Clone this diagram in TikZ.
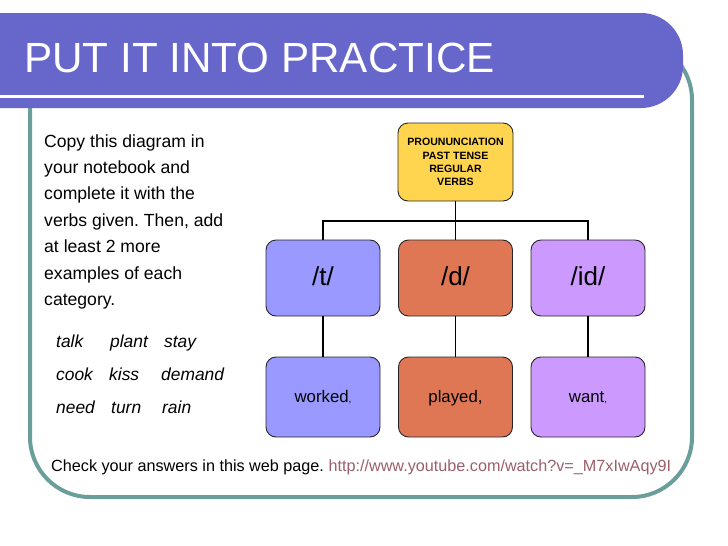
\documentclass[tikz,border=0pt]{standalone}
\usepackage{fontspec}
\setmainfont{Liberation Sans}
\frenchspacing
\definecolor{barblue}{HTML}{6767CB}
\definecolor{frameteal}{HTML}{6A9E9B}
\definecolor{tblue}{HTML}{9999FF}
\definecolor{dorange}{HTML}{DF7755}
\definecolor{idpurple}{HTML}{CC99FF}
\definecolor{topyellow}{HTML}{FFD54F}
\definecolor{urlcol}{HTML}{9B5F6B}
\tikzset{
  box/.style={draw=black!85, line width=0.9pt, rounded corners=10pt, minimum width=114pt, inner sep=0pt},
  midbox/.style={box, minimum height=76pt, text height=19pt, text depth=5pt, font=\fontsize{26}{30}\selectfont},
  lowbox/.style={box, minimum height=80pt, text height=11pt, text depth=0pt, font=\fontsize{16.8}{20}\selectfont},
  conn/.style={draw=black, line width=1.8pt},
  para/.style={anchor=base west, inner sep=0pt, font=\fontsize{17.6}{20}\selectfont},
  verb/.style={anchor=base west, inner sep=0pt, font=\fontsize{17.4}{20}\selectfont\itshape},
}
\newcommand{\smallcomma}{{\fontsize{10}{12}\selectfont,}}
\begin{document}
\begin{tikzpicture}[x=1pt,y=-1pt]
\useasboundingbox (0,0) rectangle (728,546);
% frame
\draw[frameteal, line width=4pt, rounded corners=60pt] (30,40) rectangle (692,497);
% title bar
\fill[barblue, rounded corners=42pt] (-60,13) rectangle (683,108);
\draw[white, line width=3pt] (-5,96.5) -- (644,96.5);
\node[anchor=base west, inner sep=0pt, text=white, font=\fontsize{42.2}{46}\selectfont] (title) at (24,72.5) {PUT IT INTO PRACTICE};
% instructions
\foreach \t [count=\i from 0] in {Copy this diagram in, your notebook and, complete it with the, {verbs given. Then, add}, at least 2 more, examples of each, category.}
  \node[para] (l\i) at (44,147+26.4*\i) {\t};
% verbs
\node[verb] (v1) at (56,347) {talk};
\node[verb] (v2) at (110,347) {plant};
\node[verb] (v3) at (164,347) {stay};
\node[verb] (v4) at (56,380) {cook};
\node[verb] (v5) at (109,380) {kiss};
\node[verb] (v6) at (161,380) {demand};
\node[verb] (v7) at (56,413) {need};
\node[verb] (v8) at (111,413) {turn};
\node[verb] (v9) at (162,413) {rain};
% bottom line
\node[anchor=base west, inner sep=0pt, font=\fontsize{16.2}{20}\selectfont] (check) at (51,471) {Check your answers in this web page. \textcolor{urlcol}{http://www.youtube.com/watch?v=\_M7xIwAqy9I}};
% diagram
\node[box, fill=topyellow, minimum width=115pt, minimum height=78pt, align=center,
      font=\fontsize{10.6}{13.2}\selectfont\bfseries] (top) at (455.5,162) {PROUNUNCIATION\\PAST TENSE\\REGULAR\\VERBS};
\coordinate (j) at (455.5,221);
\node[midbox, fill=tblue] (t) at (323,278) {/t/};
\node[midbox, fill=dorange] (d) at (455.5,278) {/d/};
\node[midbox, fill=idpurple] (id) at (588,278) {/id/};
\node[lowbox, fill=tblue] (tw) at (323,397) {worked\smallcomma};
\node[lowbox, fill=dorange] (dw) at (455.5,397) {played,};
\node[lowbox, fill=idpurple] (idw) at (588,397) {want\smallcomma};
\draw[conn] (top.south) -- (j);
\draw[conn] (t.north) |- (j);
\draw[conn] (id.north) |- (j);
\draw[conn] (j) -- (d.north);
\draw[conn] (t) -- (tw);
\draw[conn] (d) -- (dw);
\draw[conn] (id) -- (idw);
\end{tikzpicture}
\end{document}
